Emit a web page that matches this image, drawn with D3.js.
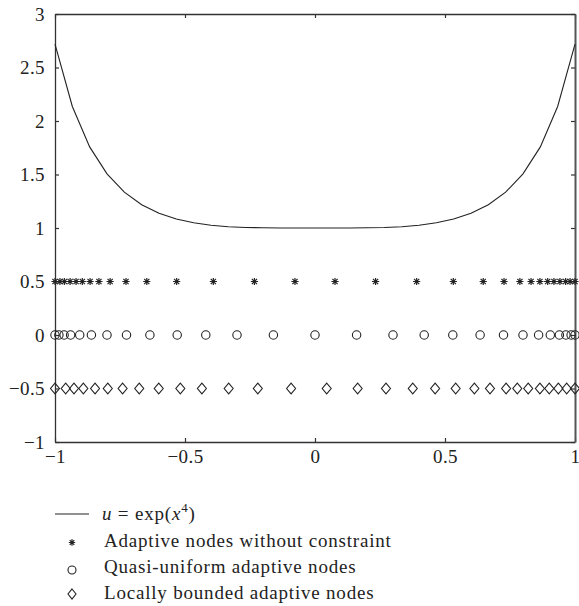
<!DOCTYPE html>
<html>
<head>
<meta charset="utf-8">
<script src="https://cdn.jsdelivr.net/npm/d3@7"></script>
<style>
  body { margin: 0; background: #fff; }
  svg { display: block; }
  text { font-family: "Liberation Serif", "DejaVu Serif", serif; fill: #222; }
</style>
</head>
<body>
<svg id="chart" width="579" height="606"></svg>
<script>
// ---- data ----
const curveX = [-1, -0.9333, -0.8667, -0.8, -0.7333, -0.6667, -0.6, -0.5333, -0.4667, -0.4, -0.3333, -0.2667, -0.2, -0.1333, -0.0667,
                0, 0.0667, 0.1333, 0.2, 0.2667, 0.3333, 0.4, 0.4667, 0.5333, 0.6, 0.6667, 0.7333, 0.8, 0.8667, 0.9333, 1];
const curveY = [2.718, 2.136, 1.758, 1.506, 1.335, 1.218, 1.138, 1.084, 1.049, 1.026, 1.012, 1.005, 1.002, 1.000, 1.000,
                1.000, 1.000, 1.000, 1.002, 1.005, 1.012, 1.026, 1.049, 1.084, 1.138, 1.218, 1.335, 1.506, 1.758, 2.136, 2.718];

const starX = [-1.0, -0.981, -0.964, -0.942, -0.919, -0.895, -0.865, -0.831, -0.788, -0.727, -0.647, -0.532, -0.391, -0.233, -0.077,
               0.077, 0.233, 0.391, 0.532, 0.647, 0.727, 0.788, 0.831, 0.865, 0.895, 0.919, 0.942, 0.964, 0.981, 1.0];
const starLevel = 0.5;

const circleX = [-1.0, -0.985, -0.965, -0.94, -0.905, -0.86, -0.80, -0.725, -0.635, -0.53, -0.42, -0.30, -0.16,
                 0, 0.16, 0.30, 0.42, 0.53, 0.635, 0.725, 0.80, 0.86, 0.905, 0.94, 0.965, 0.985, 1.0];
const circleLevel = 0;

const diamondX = [-1.0, -0.959, -0.927, -0.891, -0.846, -0.797, -0.740, -0.676, -0.601, -0.518, -0.435, -0.332, -0.220, -0.092,
                  0.045, 0.164, 0.273, 0.376, 0.462, 0.541, 0.613, 0.673, 0.735, 0.778, 0.820, 0.865, 0.901, 0.936, 0.968, 1.0];
const diamondLevel = -0.5;

const xTicks = [-1, -0.5, 0, 0.5, 1];
const yTicks = [-1, -0.5, 0, 0.5, 1, 1.5, 2, 2.5, 3];

const legendLabels = ["Adaptive nodes without constraint", "Quasi-uniform adaptive nodes", "Locally bounded adaptive nodes"];

// ---- layout ----
const svg = d3.select("#chart");
const mLeft = 55, mRight = 575, mTop = 14, mBottom = 442;
const x = d3.scaleLinear().domain([-1, 1]).range([mLeft, mRight]);
const y = d3.scaleLinear().domain([-1, 3]).range([mBottom, mTop]);
const ink = "#222";
const fmt = d => (d < 0 ? "\u2212" : "") + Math.abs(d);

// axes (ticks pointing inwards on all four sides)
const tl = 4;
const gB = svg.append("g").attr("transform", `translate(0,${mBottom})`)
  .call(d3.axisBottom(x).tickValues(xTicks).tickSizeInner(-tl).tickSizeOuter(0).tickPadding(8).tickFormat(fmt));
const gT = svg.append("g").attr("transform", `translate(0,${mTop})`)
  .call(d3.axisTop(x).tickValues(xTicks).tickSizeInner(-tl).tickSizeOuter(0).tickFormat(""));
const gL = svg.append("g").attr("transform", `translate(${mLeft},0)`)
  .call(d3.axisLeft(y).tickValues(yTicks).tickSizeInner(-tl).tickSizeOuter(0).tickPadding(10).tickFormat(fmt));
const gR = svg.append("g").attr("transform", `translate(${mRight},0)`)
  .call(d3.axisRight(y).tickValues(yTicks).tickSizeInner(-tl).tickSizeOuter(0).tickFormat(""));
[gB, gT, gL, gR].forEach(g => {
  g.select(".domain").attr("stroke", "#333").attr("stroke-width", 1.3);
  g.selectAll(".tick line").attr("stroke", "#333").attr("stroke-width", 1.2);
  g.selectAll("text").attr("font-size", 19).attr("fill", ink).attr("letter-spacing", 0.4)
    .style("font-family", '"Liberation Serif", "DejaVu Serif", serif');
});
gR.select(".domain").attr("stroke", "#555").attr("stroke-width", 2);

// curve
const line = d3.line().x((d, i) => x(curveX[i])).y(d => y(d));
svg.append("path").datum(curveY).attr("d", line)
  .attr("fill", "none").attr("stroke", ink).attr("stroke-width", 1.1);

// marker drawers
function star(g, cx, cy, s) {
  const p = d3.path();
  p.moveTo(cx - s, cy); p.lineTo(cx + s, cy);
  p.moveTo(cx, cy - s); p.lineTo(cx, cy + s);
  const d = s * 0.72;
  p.moveTo(cx - d, cy - d); p.lineTo(cx + d, cy + d);
  p.moveTo(cx - d, cy + d); p.lineTo(cx + d, cy - d);
  g.append("path").attr("d", p.toString()).attr("stroke", ink).attr("stroke-width", 1.2).attr("fill", "none");
}
function diamond(g, cx, cy, w, h) {
  g.append("path").attr("d", `M${cx},${cy - h}L${cx + w},${cy}L${cx},${cy + h}L${cx - w},${cy}Z`)
    .attr("fill", "none").attr("stroke", ink).attr("stroke-width", 1.1);
}
function circle(g, cx, cy, r) {
  g.append("circle").attr("cx", cx).attr("cy", cy).attr("r", r)
    .attr("fill", "none").attr("stroke", ink).attr("stroke-width", 1.1);
}

const marks = svg.append("g");
starX.forEach(v => star(marks, x(v), y(starLevel), 3.6));
circleX.forEach(v => circle(marks, x(v), y(circleLevel), 4.2));
diamondX.forEach(v => diamond(marks, x(v), y(diamondLevel), 4.5, 5.3));

// legend
const lg = svg.append("g");
const rowY = [514, 540.5, 567, 593];
const lfs = 19, lls = 0.8;
lg.append("line").attr("x1", 55).attr("x2", 89).attr("y1", rowY[0]).attr("y2", rowY[0])
  .attr("stroke", ink).attr("stroke-width", 1.1);
const t0 = lg.append("text").attr("x", 102).attr("y", rowY[0] + 6).attr("font-size", lfs).attr("letter-spacing", lls);
t0.append("tspan").attr("font-style", "italic").text("u");
t0.append("tspan").text(" = exp(");
t0.append("tspan").attr("font-style", "italic").text("x");
t0.append("tspan").attr("font-size", 13).attr("dy", -8).text("4");
t0.append("tspan").attr("dy", 8).text(")");

star(lg, 72, rowY[1] + 2, 3.2);
circle(lg, 72, rowY[2] + 3, 4);
diamond(lg, 72, rowY[3] + 1, 4, 5);
legendLabels.forEach((s, i) => {
  lg.append("text").attr("x", 104).attr("y", rowY[i + 1] + 6).attr("font-size", lfs).attr("letter-spacing", lls).text(s);
});
</script>
</body>
</html>
